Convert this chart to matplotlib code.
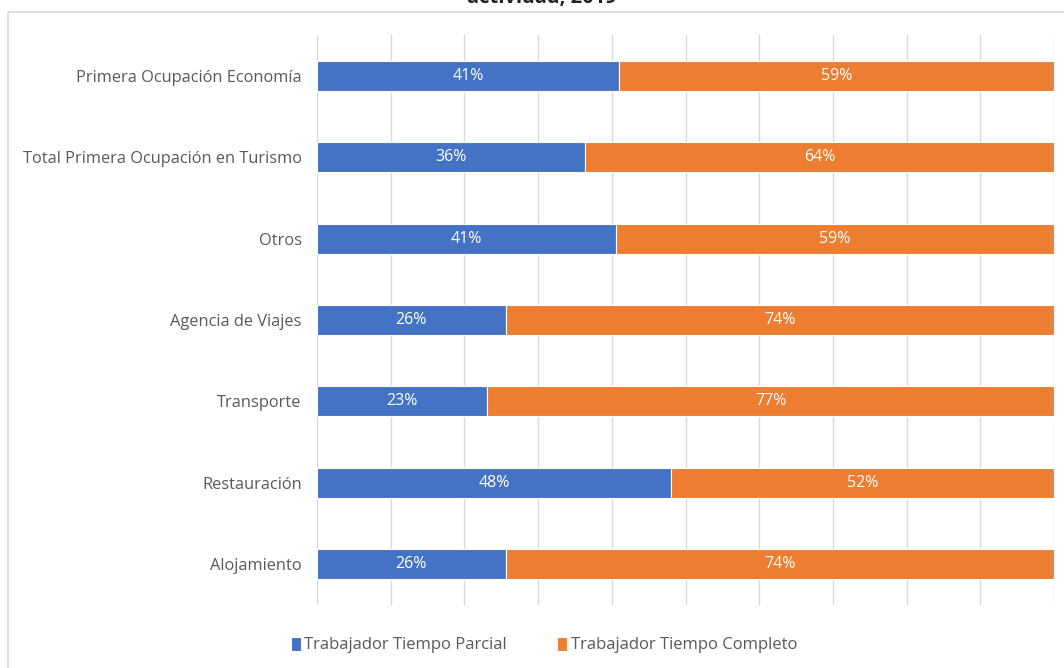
import matplotlib.pyplot as plt
from matplotlib.patches import Rectangle

# Data (share of workers, %)
categories = ["Primera Ocupación Economía", "Total Primera Ocupación en Turismo", "Otros",
              "Agencia de Viajes", "Transporte", "Restauración", "Alojamiento"]
parcial = [41, 36.4, 40.6, 25.6, 23.1, 48, 25.6]
parcial_labels = ["41%", "36%", "41%", "26%", "23%", "48%", "26%"]
completo_labels = ["59%", "64%", "59%", "74%", "77%", "52%", "74%"]
series_names = ["Trabajador Tiempo Parcial", "Trabajador Tiempo Completo"]

blue = "#4472C4"
orange = "#ED7D31"
grey_text = "#595959"
grid_col = "#D9D9D9"

plt.rcParams['font.family'] = ['Open Sans', 'DejaVu Sans']

W, H = 1064, 668
fig = plt.figure(figsize=(W / 100, H / 100), dpi=100)

# chart border (runs off the right and bottom edges)
fig.patches.append(Rectangle((8 / W, -0.1), 1.2, 1 - 12 / H + 0.1, transform=fig.transFigure,
                             fill=False, edgecolor=grid_col, linewidth=1.2))

# title, mostly cut off at the top
fig.text(542 / W, 1 - 3 / H, "actividad, 2019", ha='center', va='baseline',
         fontsize=14.5, fontweight='bold', color='#222222')

ax = fig.add_axes([317 / W, 1 - 605 / H, (1054 - 317) / W, (605 - 35) / H])

completo = [100 - p for p in parcial]
y = list(range(len(categories)))[::-1]
ax.barh(y, parcial, height=0.37, color=blue, edgecolor='white', linewidth=0.8, label=series_names[0], zorder=3)
ax.barh(y, completo, left=parcial, height=0.37, color=orange, edgecolor='white', linewidth=0.8,
        label=series_names[1], zorder=3)

for yi, p, c, lp, lc in zip(y, parcial, completo, parcial_labels, completo_labels):
    ax.text(p / 2, yi, lp, ha='center', va='center', color='white', fontsize=11.5, zorder=4)
    ax.text(p + c / 2, yi, lc, ha='center', va='center', color='white', fontsize=11.5, zorder=4)

ax.set_xlim(0, 100)
ax.set_ylim(-0.5, len(categories) - 0.5)
ax.set_xticks(range(0, 101, 10))
ax.set_xticklabels([])
ax.tick_params(axis='x', length=0)
ax.tick_params(axis='y', length=0, pad=11, labelsize=11.8, labelcolor=grey_text)
ax.set_yticks(y)
ax.set_yticklabels(categories)
ax.grid(axis='x', color=grid_col, linewidth=1, zorder=0)
for s in ax.spines.values():
    s.set_visible(False)

fig.legend(loc='center', bbox_to_anchor=(544 / W, 1 - 645 / H), ncol=2, frameon=False,
           fontsize=12, labelcolor=grey_text, handlelength=0.6, handleheight=0.9,
           handletextpad=0.2, columnspacing=3.0)

fig.savefig("out.png", dpi=100)
